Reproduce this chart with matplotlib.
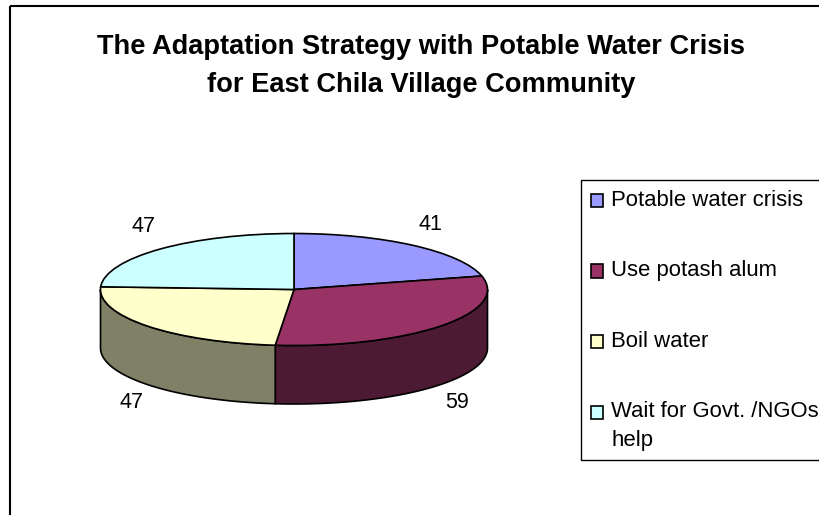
import numpy as np
import matplotlib
matplotlib.use("Agg")
import matplotlib.pyplot as plt
from matplotlib.patches import Polygon, Rectangle
from matplotlib.transforms import Affine2D

plt.rcParams["font.family"] = ["Liberation Sans", "DejaVu Sans"]

W, H = 819, 515

categories = ["Potable water crisis", "Use potash alum", "Boil water", "Wait for Govt. /NGOs\nhelp"]
values = [41, 59, 47, 47]
top_colors = ["#9999FF", "#993366", "#FFFFCC", "#CCFFFF"]
side_colors = ["#4D4D80", "#4D1A33", "#808066", "#668080"]
title_lines = "The Adaptation Strategy with Potable Water Crisis\nfor East Chila Village Community"

fig = plt.figure(figsize=(W / 100, H / 100), dpi=100, facecolor="white")

# pixel coords, y going down like the screenshot
px = Affine2D().scale(1, -1).translate(0, H)

# outer chart frame, only left and top edges are in the crop
fig.add_artist(Rectangle((10, 5.5), W + 20, H + 20, transform=px, fill=False, ec="black", lw=1.5))

# pie top ellipse
cx, cy, rx, ry, depth = 294, 289.5, 193.5, 56, 58.5
ax = fig.add_axes([(cx - rx) / W, (H - cy - ry) / H, 2 * rx / W, 2 * ry / H])

wedges, _ = ax.pie(values, colors=top_colors, startangle=90, counterclock=False, radius=1,
                   wedgeprops={"edgecolor": "black", "linewidth": 1.2})
ax.set_aspect("auto")
ax.set_xlim(-1, 1)
ax.set_ylim(-1, 1)
for w in wedges:
    w.set_zorder(3)

# side wall of the disc, front half only
edges = 90 - np.cumsum([0] + values) / sum(values) * 360
drop = depth / ry
for i in range(len(values)):
    hi = min(edges[i], 0)
    lo = max(edges[i + 1], -180)
    if hi <= lo:
        continue
    th = np.radians(np.linspace(hi, lo, 80))
    x, y = np.cos(th), np.sin(th)
    pts = np.r_[np.c_[x, y], np.c_[x[::-1], y[::-1] - drop]]
    ax.add_patch(Polygon(pts, closed=True, fc=side_colors[i], ec="black", lw=1.2, clip_on=False, zorder=2))

# data labels
label_pos = [(430, 225), (457, 402), (131, 402), (144, 227)]
for v, (lx, ly) in zip(values, label_pos):
    fig.text(lx, ly, str(v), transform=px, ha="center", va="center", fontsize=15.5, color="black")

fig.text(421, 66, title_lines, transform=px, ha="center", va="center", fontsize=19.6,
         fontweight="bold", linespacing=1.65)

# legend
leg = fig.legend(wedges, categories, loc="upper left", bbox_to_anchor=(581 / W, 1 - 180 / H),
                 frameon=True, fancybox=False, framealpha=1, edgecolor="black",
                 fontsize=15.9, handlelength=0.55, handleheight=0.55, handletextpad=0.37,
                 labelspacing=2.24, borderpad=0.44, borderaxespad=0)
leg.get_frame().set_linewidth(1.0)
leg.get_texts()[3].set_linespacing(1.47)
# swatches sit a little below the text centre, wrapped entry on its first line
for i, h in enumerate(leg.legend_handles):
    h.set_y(h.get_y() - 2 + (12 if i == 3 else 0))

fig.savefig("out.png", dpi=100)
